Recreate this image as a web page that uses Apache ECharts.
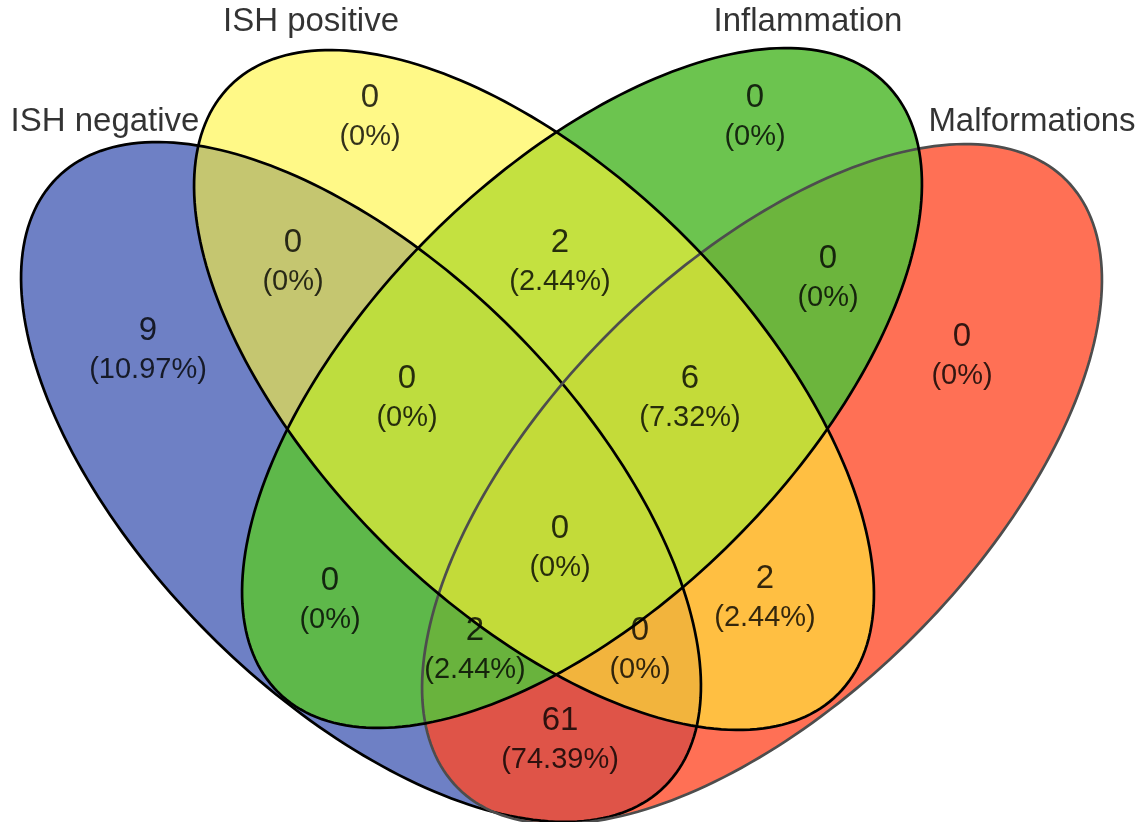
<!DOCTYPE html>
<html>
<head>
<meta charset="utf-8">
<title>Venn</title>
<script src="https://cdn.jsdelivr.net/npm/echarts@6/dist/echarts.min.js"></script>
<style>
  html, body { margin: 0; padding: 0; background: #fff; }
  #chart { width: 1140px; height: 822px; }
</style>
</head>
<body>
<div id="chart"></div>
<script>
// set names
const setNames = ['ISH negative', 'ISH positive', 'Inflammation', 'Malformations'];

// region values: A=ISH negative, B=ISH positive, C=Inflammation, D=Malformations
const regionKeys = ['A', 'B', 'C', 'D', 'AB', 'BC', 'CD', 'ABC', 'BCD', 'ABCD', 'AC', 'BD', 'ACD', 'ABD', 'AD'];
const regionCounts = [9, 0, 0, 0, 0, 2, 0, 0, 6, 0, 0, 2, 2, 0, 61];
const regionPercents = ['10.97%', '0%', '0%', '0%', '0%', '2.44%', '0%', '0%', '7.32%', '0%', '0%', '2.44%', '2.44%', '0%', '74.39%'];

// layout: label anchors in diagram units (isotropic, y up)
const regionAnchors = [
  [0.148, 0.472], [0.370, 0.705], [0.755, 0.705], [0.962, 0.466],
  [0.293, 0.560], [0.560, 0.560], [0.828, 0.544],
  [0.407, 0.424], [0.690, 0.424], [0.560, 0.274],
  [0.330, 0.222], [0.765, 0.224],
  [0.475, 0.172], [0.640, 0.172], [0.560, 0.082]
];
const setAnchors = [[0.105, 0.700], [0.311, 0.800], [0.808, 0.800], [1.032, 0.700]];

// ellipses: cx, cy, semi-major, semi-minor, rotation (deg); drawn blue, red, green, yellow
const ellipses = [
  { name: 'ISH negative', geo: [0.361, 0.340, 0.430, 0.215, -45], fill: 'rgba(110,128,197,1)', line: '#000' },
  { name: 'Malformations', geo: [0.762, 0.338, 0.430, 0.215, 45], fill: 'rgba(255,72,37,0.78)', line: '#4d4d4d' },
  { name: 'Inflammation', geo: [0.582, 0.434, 0.430, 0.215, 45], fill: 'rgba(92,190,60,0.9)', line: '#000' },
  { name: 'ISH positive', geo: [0.534, 0.432, 0.430, 0.215, -45], fill: 'rgba(255,245,55,0.6)', line: '#000' }
];

const chart = echarts.init(document.getElementById('chart'));

// 椭圆多边形
const ellipseShape = (api, geo) => {
  const [cx, cy, a, b, rot] = geo;
  const r = rot * Math.PI / 180;
  const pts = [];
  for (let k = 0; k < 240; k++) {
    const t = (k / 240) * Math.PI * 2;
    const x = cx + a * Math.cos(t) * Math.cos(r) - b * Math.sin(t) * Math.sin(r);
    const y = cy + a * Math.cos(t) * Math.sin(r) + b * Math.sin(t) * Math.cos(r);
    pts.push(api.coord([x, y]));
  }
  return { points: pts };
};

const ellipseData = ellipses.map((e) => ({ name: e.name, value: e.geo }));

const textBase = { color: '#000', fontFamily: 'Liberation Sans', textBorderWidth: 0, textShadowBlur: 0 };

const option = {
  animation: false,
  grid: { left: 0, right: 0, top: 0, bottom: 0 },
  xAxis: { type: 'value', min: 0, max: 1.14, show: false },
  yAxis: { type: 'value', min: 0, max: 0.822, show: false },
  series: [
    {
      type: 'custom',
      silent: true,
      z: 1,
      data: ellipseData,
      renderItem: (params, api) => ({
        type: 'polygon',
        shape: ellipseShape(api, ellipses[params.dataIndex].geo),
        style: { fill: ellipses[params.dataIndex].fill, stroke: 'none' }
      })
    },
    {
      type: 'custom',
      silent: true,
      z: 2,
      data: ellipseData,
      renderItem: (params, api) => ({
        type: 'polygon',
        shape: ellipseShape(api, ellipses[params.dataIndex].geo),
        style: { fill: 'none', stroke: ellipses[params.dataIndex].line, lineWidth: 2.7 }
      })
    },
    {
      type: 'scatter',
      silent: true,
      clip: false,
      z: 3,
      symbolSize: 0,
      itemStyle: { color: 'transparent' },
      data: regionKeys.map((k, i) => ({
        name: k,
        value: [regionAnchors[i][0], regionAnchors[i][1], regionCounts[i], regionPercents[i]]
      })),
      label: {
        show: true,
        position: 'inside',
        ...textBase,
        formatter: (p) => '{n|' + p.value[2] + '}\n{p|(' + p.value[3] + ')}',
        rich: {
          n: { ...textBase, fontSize: 33, lineHeight: 40, align: 'center' },
          p: { ...textBase, fontSize: 29, lineHeight: 38, align: 'center' }
        }
      }
    },
    {
      type: 'scatter',
      silent: true,
      clip: false,
      z: 3,
      symbolSize: 0,
      itemStyle: { color: 'transparent' },
      data: setNames.map((n, i) => ({ name: n, value: setAnchors[i] })),
      label: {
        show: true,
        position: 'inside',
        ...textBase,
        formatter: '{b}',
        fontSize: 33
      }
    }
  ]
};

chart.setOption(option);
</script>
</body>
</html>
